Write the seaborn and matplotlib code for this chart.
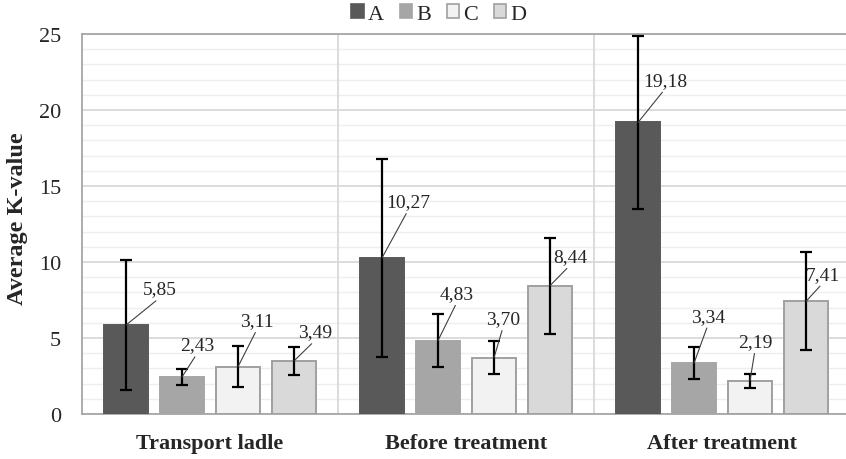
import matplotlib
matplotlib.use("Agg")
import matplotlib.pyplot as plt
from matplotlib.patches import Patch
import numpy as np
import pandas as pd
import seaborn as sns

# Categories and series
groups = ["Transport ladle", "Before treatment", "After treatment"]
series = ["A", "B", "C", "D"]

# Mean K-values per series (one value per group)
vals_A = [5.85, 10.27, 19.18]
vals_B = [2.43, 4.83, 3.34]
vals_C = [3.11, 3.70, 2.19]
vals_D = [3.49, 8.44, 7.41]

# Standard deviations (error bar half-lengths)
err_A = [4.25, 6.50, 5.67]
err_B = [0.53, 1.74, 1.05]
err_C = [1.36, 1.07, 0.47]
err_D = [0.91, 3.16, 3.23]

values = [vals_A, vals_B, vals_C, vals_D]
errors = [err_A, err_B, err_C, err_D]

df = pd.DataFrame({
    "group": [g for s in series for g in groups],
    "series": [s for s in series for g in groups],
    "value": [v for vs in values for v in vs],
})

fills = {"A": "#595959", "B": "#a6a6a6", "C": "#f2f2f2", "D": "#d9d9d9"}
edges = {"A": "#595959", "B": "#a6a6a6", "C": "#a0a0a0", "D": "#a0a0a0"}

# Label placement: offsets (px) of each value label from the bar top
label_dx = [[34, 26, 27], [15, 19, 14], [19, 9, 5], [21, 20, 17]]
label_dy = [[36, 56, 42], [32, 47, 47], [46, 39, 39], [29, 29, 27]]

sns.set_theme(style="white")
plt.rcParams["font.family"] = ["Liberation Serif", "DejaVu Serif"]

fig = plt.figure(figsize=(8.46, 4.60), dpi=100)
ax = fig.add_axes([82 / 846, 1 - 415 / 460, 768 / 846, 380 / 460])

sns.barplot(data=df, x="group", y="value", hue="series", order=groups,
            hue_order=series, palette=fills, errorbar=None, width=0.875,
            gap=0.214, saturation=1, legend=False, ax=ax, zorder=3)

px2pt = 0.72
for i, (cont, s) in enumerate(zip(ax.containers, series)):
    xs = []
    for bar in cont:
        bar.set_edgecolor(edges[s])
        bar.set_linewidth(1.4)
        xs.append(bar.get_x() + bar.get_width() / 2)
    ax.errorbar(xs, values[i], yerr=errors[i], fmt="none", ecolor="black",
                elinewidth=1.6, capsize=4.5, capthick=1.6, zorder=5)
    for j, (x, v) in enumerate(zip(xs, values[i])):
        ax.annotate(f"{v:.2f}".replace(".", ","), xy=(x, v),
                    xytext=(label_dx[i][j] * px2pt, label_dy[i][j] * px2pt),
                    textcoords="offset points", ha="center", va="center",
                    fontsize=14, color="#262626", zorder=6,
                    arrowprops=dict(arrowstyle="-", color="#404040", lw=0.8,
                                    shrinkA=0, shrinkB=0, relpos=(0.5, 0.0)))

ax.set_xlim(-0.5, 2.5)
ax.set_ylim(0, 25)
ax.set_yticks(np.arange(0, 26, 5))
ax.set_yticks(np.arange(0, 26, 1), minor=True)
ax.grid(axis="y", which="major", color="#d9d9d9", lw=1.3, zorder=0)
ax.grid(axis="y", which="minor", color="#eeeeee", lw=1.0, zorder=0)
for xv in (0.5, 1.5):
    ax.axvline(xv, color="#d9d9d9", lw=1.3, zorder=1)

for side in ("left", "bottom", "top"):
    ax.spines[side].set_color("#a6a6a6")
    ax.spines[side].set_linewidth(1.3)
ax.spines["right"].set_visible(False)

ax.tick_params(axis="both", which="both", length=0)
ax.tick_params(axis="y", pad=15, labelsize=16)
ax.tick_params(axis="x", pad=14, labelsize=16)
for t in ax.get_xticklabels():
    t.set_fontweight("bold")
ax.set_xlabel("")
ax.set_ylabel("Average K-value", fontsize=17.5, fontweight="bold")
ax.yaxis.set_label_coords(-54 / 768, (415 - 219) / 380)

handles = [Patch(facecolor=fills[s], edgecolor=edges[s], lw=1.2, label=s)
           for s in series]
fig.legend(handles=handles, loc="center", bbox_to_anchor=(439 / 846, 1 - 15 / 460),
           ncol=4, frameon=False, fontsize=16, handlelength=0.55,
           handleheight=0.55, handletextpad=0.2, columnspacing=0.7)

fig.savefig("out.png", dpi=100)
